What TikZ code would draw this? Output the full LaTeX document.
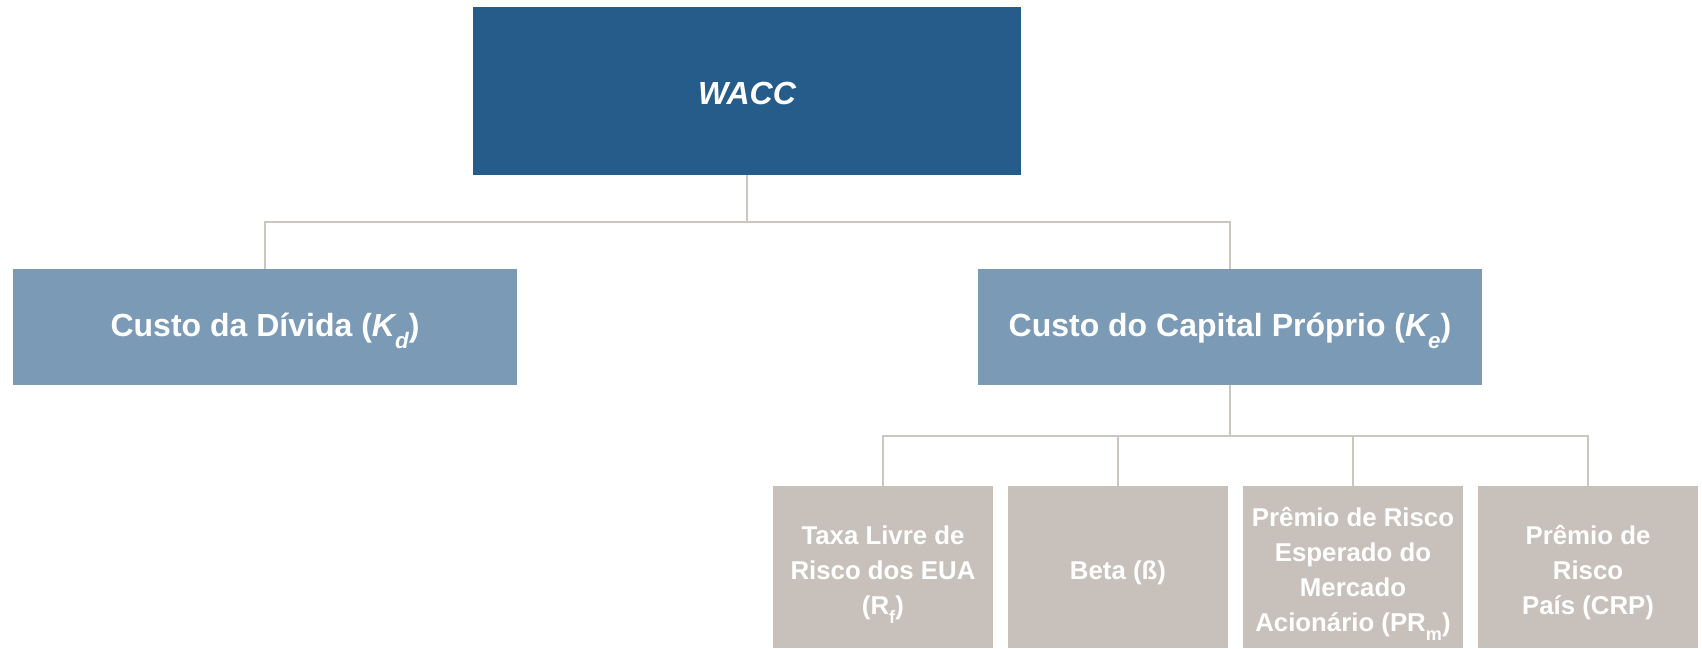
\documentclass[tikz,border=0pt]{standalone}
\usepackage{fontspec}
\setmainfont{Liberation Sans}
\definecolor{waccblue}{HTML}{255C89}
\definecolor{costblue}{HTML}{7A9AB6}
\definecolor{partgray}{HTML}{C8C1BB}
\definecolor{linkgray}{HTML}{CCC6C1}
\newcommand{\lowsub}[1]{\smash{\textsubscript{\raisebox{-0.3em}{#1}}}\kern-0.03em}
\begin{document}
\begin{tikzpicture}[x=0.5pt, y=-0.5pt,
    box/.style={inner sep=0pt},
    boxtext/.style={inner sep=0pt, align=center, text=white},
    topbox/.style={box, fill=waccblue, minimum width=274pt, minimum height=83.6pt},
    costbox/.style={box, fill=costblue, minimum width=252pt, minimum height=58pt},
    partbox/.style={box, fill=partgray, minimum width=110pt, minimum height=81pt},
    toptext/.style={boxtext, yshift=-1pt, font=\fontsize{16}{19}\selectfont\bfseries\itshape},
    costtext/.style={boxtext, yshift=-0.5pt, font=\fontsize{16}{19}\selectfont\bfseries},
    parttext/.style={boxtext, yshift=-2.75pt, font=\fontsize{12.9}{17.5}\selectfont\bfseries},
    link/.style={draw=linkgray, line width=1pt}]
        \useasboundingbox (0, 0) rectangle (1702, 648);
        % top level
        \node[topbox] (wacc) at (747, 91) {};
        \node[costbox] (kd) at (265, 327) {};
        \node[costbox] (ke) at (1230, 327) {};
        \node[toptext] (twacc) at (wacc.center) {WACC};
        \node[costtext] (tkd) at (kd.center) {Custo da Dívida (\textit{K\lowsub{d}})};
        \node[costtext] (tke) at (ke.center) {Custo do Capital Próprio (\textit{K\lowsub{e}})};
        % components of Ke
        \node[partbox] (rf) at (883, 567) {};
        \node[partbox] (beta) at (1118, 567) {};
        \node[partbox] (prm) at (1353, 567) {};
        \node[partbox] (crp) at (1588, 567) {};
        \node[parttext] (trf) at (rf.center) {Taxa Livre de\\Risco dos EUA\\(R\lowsub{f})};
        \node[parttext] (tbeta) at (beta.center) {Beta (ß)};
        \node[parttext] (tprm) at (prm.center) {Prêmio de Risco\\Esperado do\\Mercado\\Acionário (PR\lowsub{m})};
        \node[parttext] (tcrp) at (crp.center) {Prêmio de\\Risco\\País (CRP)};
        \coordinate (j1) at (747, 222);
        \coordinate (j2) at (1230, 436);
        \draw[link] (wacc.south) -- (j1);
        \draw[link] (kd.north) |- (j1) -| (ke.north);
        \draw[link] (ke.south) -- (j2);
        \foreach \part in {rf, beta, prm, crp}
            \draw[link] (\part.north) |- (j2);
\end{tikzpicture}
\end{document}
